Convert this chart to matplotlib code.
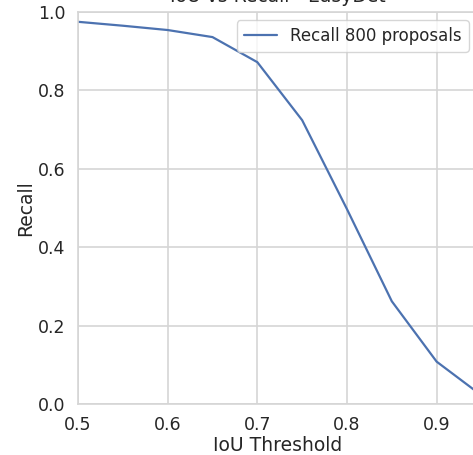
import matplotlib
matplotlib.use("Agg")
import matplotlib.pyplot as plt
import seaborn as sns

# IoU thresholds and recall values
iou_thresholds = [0.5, 0.55, 0.6, 0.65, 0.7, 0.75, 0.8, 0.85, 0.9, 0.95]
recall_800 = [0.975, 0.965, 0.954, 0.936, 0.872, 0.724, 0.497, 0.262, 0.108, 0.022]

sns.set_style("whitegrid")
plt.rcParams["font.family"] = ["DejaVu Sans"]
text_col = "#262626"

fig = plt.figure(figsize=(4.73, 4.55), dpi=100)
ax = fig.add_axes([78 / 473, 51 / 455, 399 / 473, 392 / 455])

ax.plot(iou_thresholds, recall_800, color="#4C72B0", linewidth=1.6,
        label="Recall 800 proposals")

ax.set_xlim(0.5, 0.945)
ax.set_ylim(0.0, 1.0)
ax.set_xticks([0.5, 0.6, 0.7, 0.8, 0.9])
ax.set_yticks([0.0, 0.2, 0.4, 0.6, 0.8, 1.0])
ax.tick_params(labelsize=12.5, colors=text_col, length=0, pad=9)
ax.set_xlabel("IoU Threshold", fontsize=13.5, color=text_col, labelpad=1)
ax.set_ylabel("Recall", fontsize=13.5, color=text_col, labelpad=2)
ax.set_title("IoU vs Recall - EasyDet", fontsize=13.5, color=text_col, pad=7)

ax.grid(True, color="#d5d5d5", linewidth=1.2)
for s in ax.spines.values():
    s.set_color("#d5d5d5")
    s.set_linewidth(1.2)

leg = ax.legend(loc="upper right", fontsize=12, frameon=True)
for t in leg.get_texts():
    t.set_color(text_col)

fig.savefig("out.png", dpi=100)
